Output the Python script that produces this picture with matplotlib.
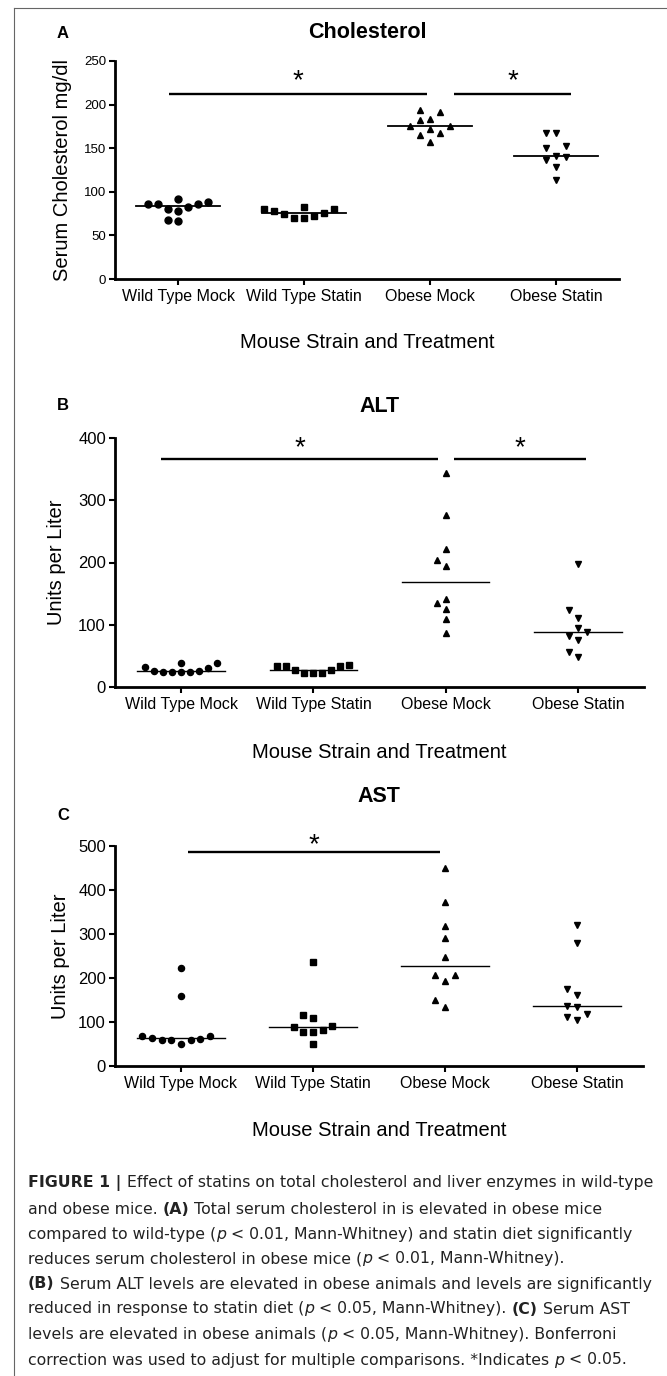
import numpy as np
import matplotlib.pyplot as plt
from matplotlib.lines import Line2D

plt.rcParams['font.family'] = ['Liberation Sans', 'DejaVu Sans']

W, H = 667, 1376

groups = ['Wild Type Mock', 'Wild Type Statin', 'Obese Mock', 'Obese Statin']
markers = ['o', 's', '^', 'v']

# serum cholesterol, mg/dl
chol_wt_mock = [86, 86, 80, 92, 78, 82, 86, 88, 66, 68]
chol_wt_statin = [80, 76, 72, 70, 82, 70, 74, 78, 80]
chol_ob_mock = [192, 194, 182, 184, 176, 172, 176, 168, 165, 157]
chol_ob_statin = [167, 167, 150, 152, 137, 141, 140, 129, 114]

# ALT, units per liter
alt_wt_mock = [38, 32, 25, 24, 24, 24, 24, 25, 31, 39]
alt_wt_statin = [35, 33, 28, 23, 23, 23, 27, 33, 33]
alt_ob_mock = [343, 277, 221, 204, 195, 135, 141, 126, 109, 86]
alt_ob_statin = [197, 123, 111, 94, 89, 82, 75, 56, 48]

# AST, units per liter
ast_wt_mock = [223, 158, 69, 62, 58, 50, 58, 60, 64, 69]
ast_wt_statin = [237, 108, 117, 88, 78, 78, 81, 92, 50]
ast_ob_mock = [449, 372, 318, 292, 247, 207, 207, 194, 150, 133]
ast_ob_statin = [320, 279, 176, 161, 137, 135, 118, 111, 104]

# significance bars: (from, to, height) in axis units
chol_sig = [(-0.07, 1.98, 212), (2.19, 3.12, 212)]
alt_sig = [(-0.15, 1.94, 366), (2.06, 3.06, 366)]
ast_sig = [(0.05, 1.96, 486)]


def fx(px):
    return px / W


def fy(px):
    return 1 - px / H


def scatter_offsets(ax, vals, step_px):
    # GraphPad-like rows: lowest first, next free column slot (0, -1, +1, -2, ...)
    ys = ax.transData.transform(np.column_stack([np.zeros(len(vals)), vals]))[:, 1]
    cols = {}
    offs = np.zeros(len(vals))
    slots = [0]
    for k in range(1, 20):
        slots += [-k, k]
    for i in np.argsort(ys, kind='stable'):
        y = ys[i]
        for k in slots:
            if all(abs(y - py) >= step_px for py in cols.get(k, [])):
                cols.setdefault(k, []).append(y)
                offs[i] = k
                break
    unit = ax.transData.transform((1, 0))[0] - ax.transData.transform((0, 0))[0]
    return offs * step_px / unit


fig = plt.figure(figsize=(W / 100, H / 100), dpi=100)

panels = [
    dict(letter='A', title='Cholesterol', ylabel='Serum Cholesterol mg/dl',
         data=[chol_wt_mock, chol_wt_statin, chol_ob_mock, chol_ob_statin], sig=chol_sig,
         ymax=250, ystep=50, box=(115, 619, 61, 279), ytick_size=9.5, ms=5, d=10, mlw=1.3,
         letter_y=33, title_y=33, xlabel_y=342, ylabel_x=62, star_off=4),
    dict(letter='B', title='ALT', ylabel='Units per Liter',
         data=[alt_wt_mock, alt_wt_statin, alt_ob_mock, alt_ob_statin], sig=alt_sig,
         ymax=400, ystep=100, box=(115, 644, 438, 687), ytick_size=12, ms=4.4, d=9, mlw=1.0,
         letter_y=405, title_y=407, xlabel_y=752, ylabel_x=57, star_off=2.5),
    dict(letter='C', title='AST', ylabel='Units per Liter',
         data=[ast_wt_mock, ast_wt_statin, ast_ob_mock, ast_ob_statin], sig=ast_sig,
         ymax=500, ystep=100, box=(115, 643, 846, 1066), ytick_size=12, ms=4.4, d=9.7, mlw=1.0,
         letter_y=815, title_y=797, xlabel_y=1130, ylabel_x=60, star_off=0),
]

for p in panels:
    l, r, t, b = p['box']
    ax = fig.add_axes([fx(l), fy(b), (r - l) / W, (b - t) / H])
    ax.set_xlim(-0.5, 3.5)
    ax.set_ylim(0, p['ymax'])
    ax.spines['top'].set_visible(False)
    ax.spines['right'].set_visible(False)
    for s in ['left', 'bottom']:
        ax.spines[s].set_linewidth(2)
    ax.set_yticks(np.arange(0, p['ymax'] + 1, p['ystep']))
    ax.set_xticks(range(4))
    ax.set_xticklabels(groups)
    ax.tick_params(axis='y', labelsize=p['ytick_size'], length=4.5, width=1.5, pad=2)
    ax.tick_params(axis='x', labelsize=11.5, length=4.3, width=1.5, pad=3)

    for i, vals in enumerate(p['data']):
        off = scatter_offsets(ax, vals, p['d'])
        ax.plot(i + off, vals, linestyle='none', marker=markers[i], ms=p['ms'],
                color='black', clip_on=False)
        med = np.median(vals)
        ax.plot([i - 0.33, i + 0.33], [med, med], color='black', lw=p['mlw'])

    for x0, x1, h in p['sig']:
        ax.plot([x0, x1], [h, h], color='black', lw=1.7, solid_capstyle='butt')
        ax.annotate('*', xy=((x0 + x1) / 2, h), xytext=(0, p['star_off']),
                    textcoords='offset points', ha='center', va='baseline', fontsize=20)

    mid = (l + r) / 2
    fig.text(fx(63), fy(p['letter_y']), p['letter'], fontsize=12, fontweight='bold',
             ha='center', va='center')
    fig.text(fx(mid), fy(p['title_y']), p['title'], fontsize=15.5, fontweight='bold',
             ha='center', va='center')
    fig.text(fx(mid), fy(p['xlabel_y']), 'Mouse Strain and Treatment', fontsize=14.5,
             ha='center', va='center')
    fig.text(fx(p['ylabel_x']), fy((t + b) / 2), p['ylabel'], fontsize=14.5,
             rotation=90, ha='center', va='center')

# frame lines
fig.add_artist(Line2D([fx(14), fx(W)], [fy(8), fy(8)], color='#666666', lw=0.8))
fig.add_artist(Line2D([fx(14), fx(14)], [fy(8), fy(H)], color='#666666', lw=0.8))

# caption
caption = [
    [('FIGURE 1 | ', 'b'), ('Effect of statins on total cholesterol and liver enzymes in wild-type', 'n')],
    [('and obese mice. ', 'n'), ('(A)', 'b'), (' Total serum cholesterol in is elevated in obese mice', 'n')],
    [('compared to wild-type (', 'n'), ('p', 'i'), (' < 0.01, Mann-Whitney) and statin diet significantly', 'n')],
    [('reduces serum cholesterol in obese mice (', 'n'), ('p', 'i'), (' < 0.01, Mann-Whitney).', 'n')],
    [('(B)', 'b'), (' Serum ALT levels are elevated in obese animals and levels are significantly', 'n')],
    [('reduced in response to statin diet (', 'n'), ('p', 'i'), (' < 0.05, Mann-Whitney). ', 'n'),
     ('(C)', 'b'), (' Serum AST', 'n')],
    [('levels are elevated in obese animals (', 'n'), ('p', 'i'), (' < 0.05, Mann-Whitney). Bonferroni', 'n')],
    [('correction was used to adjust for multiple comparisons. *Indicates ', 'n'), ('p', 'i'),
     (' < 0.05.', 'n')],
]
line_y = [1183, 1209, 1234, 1259, 1284, 1309, 1334, 1360]
cap_font = ['DejaVu Sans']
renderer = fig.canvas.get_renderer()


def seg_kw(style, size):
    kw = dict(fontsize=size, color='#222222', family=cap_font)
    if style == 'b':
        kw['fontweight'] = 'bold'
    if style == 'i':
        kw['fontstyle'] = 'italic'
    return kw


def text_width(s, **kw):
    t = fig.text(0, 0, s, **kw)
    w = t.get_window_extent(renderer).width
    t.remove()
    return w


def draw_line(segs, y, size, draw=True):
    x = 28
    for s, style in segs:
        kw = seg_kw(style, size)
        sp = text_width('a a', **kw) - text_width('aa', **kw)
        core = s.strip()
        x += (len(s) - len(s.lstrip())) * sp
        if draw:
            fig.text(fx(x), fy(y), core, va='center', ha='left', **kw)
        x += text_width(core, **kw) + (len(s) - len(s.rstrip())) * sp
    return x - 28


# fit the first caption line to its width in the reference
cap_size = 11.0 * 625 / draw_line(caption[0], 0, 11.0, draw=False)

for segs, y in zip(caption, line_y):
    draw_line(segs, y, cap_size)

fig.savefig('out.png', dpi=100)
